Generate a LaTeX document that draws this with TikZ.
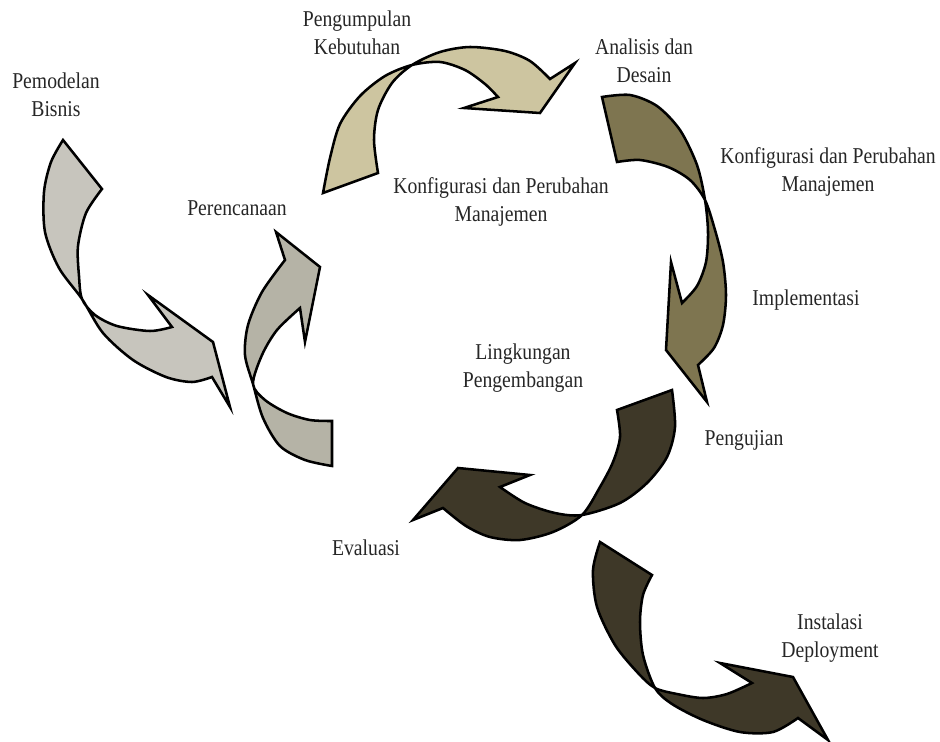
\documentclass[tikz,border=0pt]{standalone}
\usepackage{fontspec}
\setmainfont{Liberation Serif}
\definecolor{abuA}{RGB}{199,197,189}
\definecolor{abuB}{RGB}{181,179,166}
\definecolor{krem}{RGB}{205,197,160}
\definecolor{zaitun}{RGB}{126,117,80}
\definecolor{gelap}{RGB}{62,56,40}
\begin{document}
\begin{tikzpicture}[x=0.025cm, y=-0.025cm, line join=miter,
  panah/.style={draw=black, line width=1.8pt},
  lbl/.style={font=\fontsize{14}{17}\selectfont, align=center, inner sep=0pt, text=black!85, transform shape, yscale=1.15}]

	\useasboundingbox (0,0) rectangle (940,742);

	\coordinate (P1) at (63,140);
	\coordinate (P2) at (332,421);
	\coordinate (P3) at (323,193);
	\coordinate (P4) at (602,97);
	\coordinate (P5) at (672,390);
	\coordinate (P6) at (600,542);

	% Pemodelan Bisnis -> Perencanaan
	\filldraw[panah, fill=abuA] (P1) -- (102,189)
	  -- plot[smooth] coordinates {(102,189) (86,213) (78,246) (79,276) (82,299) (95,315) (117,326) (150,331) (172,327)}
	  -- (148,295) -- (213,342) -- (230,407) -- (212,377)
	  -- plot[smooth] coordinates {(212,377) (192,382) (166,377) (133,360) (103,333) (82,299) (59,268) (45,232) (44,192) (51,162) (63,140)}
	  -- cycle;

	% Perencanaan
	\filldraw[panah, fill=abuB] (P2) -- (332,466)
	  -- plot[smooth] coordinates {(332,466) (305,460) (280,446) (263,418) (253,384) (245,355) (248,325) (262,292) (285,260)}
	  -- (276,232) -- (320,267) -- (305,342) -- (300,308)
	  -- plot[smooth] coordinates {(300,308) (277,330) (262,355) (253,384) (265,400) (287,413) (310,420) (332,421)}
	  -- cycle;

	% Pengumpulan Kebutuhan -> Analisis
	\filldraw[panah, fill=krem] (P3) -- (378,173)
	  -- plot[smooth] coordinates {(378,173) (374,140) (378,110) (392,83) (412,65) (440,52) (470,47) (505,51) (530,61) (550,79)}
	  -- (575,63) -- (540,113) -- (464,108) -- (498,97)
	  -- plot[smooth] coordinates {(498,97) (485,84) (465,70) (440,62) (412,65) (385,76) (360,96) (340,124) (330,158) (323,193)}
	  -- cycle;

	% Analisis -> Implementasi
	\filldraw[panah, fill=zaitun] (P4)
	  -- plot[smooth] coordinates {(602,97) (630,95) (657,106) (680,130) (697,165) (705,200) (708,232) (706,262) (697,286) (682,303)}
	  -- (671,262) -- (666,350) -- (707,402) -- (698,365)
	  -- plot[smooth] coordinates {(698,365) (714,348) (723,325) (726,295) (723,262) (715,230) (705,200) (690,180) (668,167) (640,160) (617,162)}
	  -- cycle;

	% Pengujian -> Evaluasi
	\filldraw[panah, fill=gelap] (P5) -- (617,410)
	  -- plot[smooth] coordinates {(617,410) (620,437) (613,462) (600,487) (582,515) (553,532) (520,540) (490,537) (466,526) (443,508)}
	  -- (413,520) -- (458,468) -- (530,475) -- (500,487)
	  -- plot[smooth] coordinates {(500,487) (525,503) (555,513) (582,515) (620,503) (647,483) (667,457) (675,427) (672,390)}
	  -- cycle;

	% Instalasi Deployment
	\filldraw[panah, fill=gelap] (P6) -- (652,575)
	  -- plot[smooth] coordinates {(652,575) (643,595) (640,622) (643,655) (655,688) (672,704) (703,720) (740,732) (773,732) (798,718)}
	  -- (828,740) -- (793,677) -- (720,663) -- (752,683)
	  -- plot[smooth] coordinates {(752,683) (727,694) (703,698) (677,694) (655,688) (638,673) (615,645) (597,607) (593,570) (600,542)}
	  -- cycle;

	\node[lbl] (pemodelan) at (56,95) {Pemodelan\\Bisnis};
	\node[lbl] (pengumpulan) at (357,33) {Pengumpulan\\Kebutuhan};
	\node[lbl] (analisis) at (644,61) {Analisis dan\\Desain};
	\node[lbl] (perencanaan) at (237,208) {Perencanaan};
	\node[lbl] (konfigTengah) at (501,202) {Konfigurasi dan Perubahan\\Manajemen};
	\node[lbl] (konfigKanan) at (828,172) {Konfigurasi dan Perubahan\\Manajemen};
	\node[lbl] (implementasi) at (806,300) {Implementasi};
	\node[lbl] (lingkungan) at (523,368) {Lingkungan\\Pengembangan};
	\node[lbl] (pengujian) at (744,440) {Pengujian};
	\node[lbl] (evaluasi) at (366,548) {Evaluasi};
	\node[lbl] (instalasi) at (830,638) {Instalasi\\Deployment};
\end{tikzpicture}
\end{document}
